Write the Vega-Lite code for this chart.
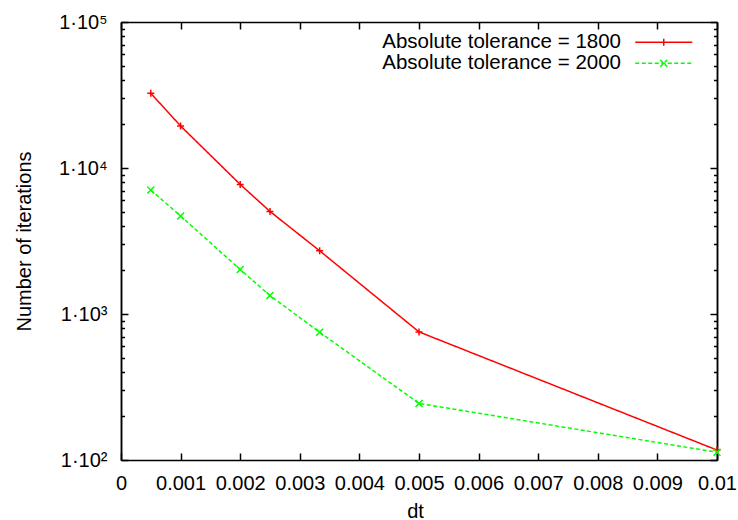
{
  "$schema": "https://vega.github.io/schema/vega-lite/v6.json",
  "width": 596,
  "height": 438,
  "autosize": "none",
  "padding": {"left": 121, "top": 22, "right": 21, "bottom": 60},
  "background": "white",
  "config": {
    "font": "Liberation Sans",
    "view": {"stroke": null},
    "axis": {
      "grid": false,
      "labelFont": "Liberation Sans",
      "titleFont": "Liberation Sans",
      "labelFontSize": 20,
      "titleFontSize": 20,
      "titleFontWeight": "normal",
      "labelColor": "#000000",
      "titleColor": "#000000",
      "tickColor": "#000000",
      "domainColor": "#000000",
      "domainWidth": 1.5,
      "tickWidth": 1.5,
      "labelFlush": false,
      "labelOverlap": false
    },
    "legend": {"labelFont": "Liberation Sans"}
  },
  "data": {
    "values": [
      {"dt": 0.0005, "iters": 32500, "series": "Absolute tolerance = 1800"},
      {"dt": 0.001, "iters": 19400, "series": "Absolute tolerance = 1800"},
      {"dt": 0.002, "iters": 7720, "series": "Absolute tolerance = 1800"},
      {"dt": 0.0025, "iters": 5040, "series": "Absolute tolerance = 1800"},
      {"dt": 0.003333, "iters": 2710, "series": "Absolute tolerance = 1800"},
      {"dt": 0.005, "iters": 754, "series": "Absolute tolerance = 1800"},
      {"dt": 0.01, "iters": 117, "series": "Absolute tolerance = 1800"},
      {"dt": 0.0005, "iters": 7060, "series": "Absolute tolerance = 2000"},
      {"dt": 0.001, "iters": 4690, "series": "Absolute tolerance = 2000"},
      {"dt": 0.002, "iters": 2017, "series": "Absolute tolerance = 2000"},
      {"dt": 0.0025, "iters": 1337, "series": "Absolute tolerance = 2000"},
      {"dt": 0.003333, "iters": 750, "series": "Absolute tolerance = 2000"},
      {"dt": 0.005, "iters": 244, "series": "Absolute tolerance = 2000"},
      {"dt": 0.01, "iters": 113, "series": "Absolute tolerance = 2000"}
    ]
  },
  "layer": [
    {
      "mark": {"type": "line", "strokeWidth": 1.5},
      "encoding": {
        "x": {
          "field": "dt", "type": "quantitative",
          "scale": {"domain": [0, 0.01], "nice": false, "zero": false},
          "axis": {
            "orient": "bottom",
            "values": [0, 0.001, 0.002, 0.003, 0.004, 0.005, 0.006, 0.007, 0.008, 0.009, 0.01],
            "format": ".3~f",
            "tickSize": -7,
            "labelPadding": 20,
            "title": "dt",
            "titleX": 294,
            "titleY": 57,
            "titleBaseline": "alphabetic"
          }
        },
        "y": {
          "field": "iters", "type": "quantitative",
          "scale": {"type": "log", "domain": [100, 100000], "nice": false},
          "axis": {
            "orient": "left",
            "values": [100, 1000, 10000, 100000],
            "labelExpr": "datum.value == 100 ? '1·10²' : datum.value == 1000 ? '1·10³' : datum.value == 10000 ? '1·10⁴' : '1·10⁵'",
            "tickSize": -7,
            "labelPadding": 21,
            "title": "Number of iterations",
            "titleX": -91,
            "titleY": 219,
            "titleBaseline": "alphabetic"
          }
        },
        "color": {
          "field": "series", "type": "nominal",
          "scale": {"domain": ["Absolute tolerance = 1800", "Absolute tolerance = 2000"], "range": ["#ff0000", "#00ff00"]},
          "legend": {
            "orient": "none",
            "legendX": 532.5,
            "legendY": 10,
            "title": null,
            "padding": 0,
            "rowPadding": 0,
            "symbolSize": 324,
            "symbolStrokeWidth": 1.5,
            "labelFontSize": 20.5,
            "labelColor": "#000000",
            "labelAlign": "right",
            "labelOffset": -53,
            "labelLimit": 400,
            "encode": {
              "symbols": {
                "update": {
                  "opacity": {"value": 1},
                  "fill": {"value": "transparent"},
                  "strokeWidth": {"value": 1.5},
                  "shape": {"signal": "datum.value === 'Absolute tolerance = 1800' ? 'M-3.167,0H3.167M0,-0.389V0.389' : 'M-3.167,0H3.167M-0.389,-0.389L0.389,0.389M-0.389,0.389L0.389,-0.389'"},
                  "stroke": {"signal": "datum.value === 'Absolute tolerance = 1800' ? '#ff0000' : '#00ff00'"},
                  "strokeDash": {"signal": "datum.value === 'Absolute tolerance = 1800' ? [1, 0] : [4, 2.5]"}
                }
              }
            }
          }
        },
        "strokeDash": {
          "field": "series", "type": "nominal",
          "scale": {"domain": ["Absolute tolerance = 1800", "Absolute tolerance = 2000"], "range": [[1, 0], [4, 2.5]]},
          "legend": null
        }
      }
    },
    {
      "transform": [{"filter": "datum.series === 'Absolute tolerance = 1800'"}],
      "mark": {"type": "point", "shape": "M-1,0H1M0,-1V1", "size": 49, "filled": false, "stroke": "#ff0000", "strokeWidth": 1.5, "opacity": 1},
      "encoding": {
        "x": {
          "field": "dt", "type": "quantitative",
          "axis": {
            "orient": "top",
            "values": [0, 0.001, 0.002, 0.003, 0.004, 0.005, 0.006, 0.007, 0.008, 0.009, 0.01],
            "labels": false,
            "tickSize": -7,
            "title": null
          }
        },
        "y": {
          "field": "iters", "type": "quantitative",
          "axis": {
            "orient": "left",
            "values": [200, 300, 400, 500, 600, 700, 800, 900, 2000, 3000, 4000, 5000, 6000, 7000, 8000, 9000, 20000, 30000, 40000, 50000, 60000, 70000, 80000, 90000],
            "labels": false,
            "tickSize": -3.5,
            "title": null
          }
        }
      }
    },
    {
      "transform": [{"filter": "datum.series === 'Absolute tolerance = 2000'"}],
      "mark": {"type": "point", "shape": "M-1,-1L1,1M-1,1L1,-1", "size": 49, "filled": false, "stroke": "#00ff00", "strokeWidth": 1.5, "opacity": 1},
      "encoding": {
        "x": {"field": "dt", "type": "quantitative", "axis": null},
        "y": {
          "field": "iters", "type": "quantitative",
          "axis": {
            "orient": "right",
            "values": [100, 1000, 10000, 100000],
            "labels": false,
            "tickSize": -7,
            "title": null
          }
        }
      }
    },
    {
      "mark": {"type": "point", "filled": false, "opacity": 0},
      "encoding": {
        "x": {"field": "dt", "type": "quantitative", "axis": null},
        "y": {
          "field": "iters", "type": "quantitative",
          "axis": {
            "orient": "right",
            "values": [200, 300, 400, 500, 600, 700, 800, 900, 2000, 3000, 4000, 5000, 6000, 7000, 8000, 9000, 20000, 30000, 40000, 50000, 60000, 70000, 80000, 90000],
            "labels": false,
            "tickSize": -3.5,
            "title": null
          }
        }
      }
    }
  ],
  "resolve": {"axis": {"x": "independent", "y": "independent"}}
}
